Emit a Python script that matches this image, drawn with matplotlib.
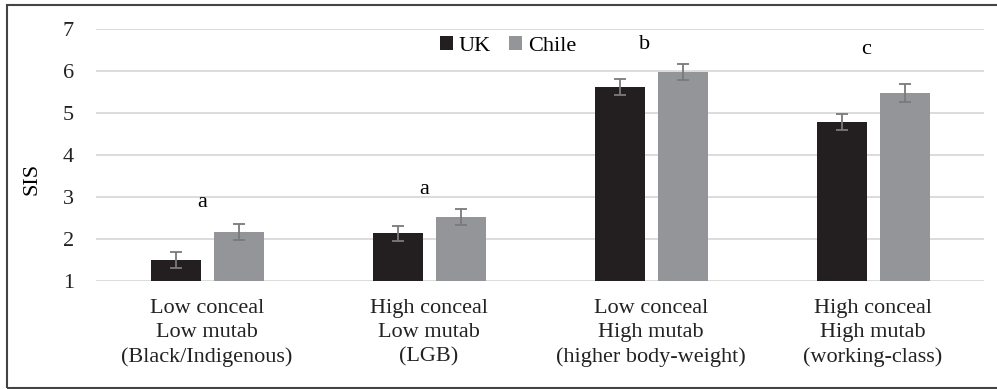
import matplotlib.pyplot as plt
from matplotlib.patches import Rectangle
import numpy as np

plt.rcParams['font.family'] = ['Liberation Serif', 'DejaVu Serif']
plt.rcParams['font.size'] = 16

#-Data
categories = ['Low conceal\nLow mutab\n(Black/Indigenous)',
              'High conceal\nLow mutab\n(LGB)',
              'Low conceal\nHigh mutab\n(higher body-weight)',
              'High conceal\nHigh mutab\n(working-class)']
uk_vals = [1.50, 2.14, 5.61, 4.78]
uk_err = [0.19, 0.18, 0.19, 0.19]
chile_vals = [2.17, 2.52, 5.98, 5.47]
chile_err = [0.19, 0.19, 0.19, 0.21]
letters = ['a', 'a', 'b', 'c']
letter_y = [2.88, 3.17, 6.64, 6.50]

fig = plt.figure(figsize=(9.97, 3.89), dpi=100)
ax = fig.add_axes([96/997, 1-281/389, 888/997, 252/389])

x = np.arange(len(categories))
w = 50/222.
off = 31.5/222.
err_kw = dict(ecolor='#7a7a7a', elinewidth=1.3, capsize=4, capthick=1.3)
ax.bar(x - off, uk_vals, w, yerr=uk_err, color='#231f20', label='UK', error_kw=err_kw, zorder=2)
ax.bar(x + off, chile_vals, w, yerr=chile_err, color='#939598', label='Chile', error_kw=err_kw, zorder=2)

for i in range(len(categories)):
    ax.text(x[i] - 0.02 if i < 2 else x[i] - 0.03, letter_y[i], letters[i], ha='center', va='center')

ax.set_xlim(-0.5, 3.5)
ax.set_ylim(1, 7)
ax.set_yticks(np.arange(1, 8))
ax.set_xticks(x)
ax.set_xticklabels(categories, linespacing=1.35)
ax.tick_params(axis='both', length=0, colors='#222222')
ax.tick_params(axis='y', pad=16)
ax.tick_params(axis='x', pad=13)
ax.grid(axis='y', color='#d9d9d9', linewidth=1.3, zorder=0)
ax.set_axisbelow(True)
for s in ax.spines.values():
    s.set_visible(False)
ax.set_ylabel('SIS')
ax.yaxis.set_label_coords(-54/888., 0.405)

ax.legend(loc='center', bbox_to_anchor=((508-96)/888., 1-(46-29)/252.), ncol=2, frameon=False,
          handlelength=0.6, handleheight=0.6, handletextpad=0.25, columnspacing=0.8, borderpad=0)

#-Outer frame
fig.patches.append(Rectangle((7/997, 1/389), 1.2, 1-6/389, transform=fig.transFigure,
                             fill=False, edgecolor='#444444', linewidth=1.5))

fig.savefig('out.png', dpi=100)
